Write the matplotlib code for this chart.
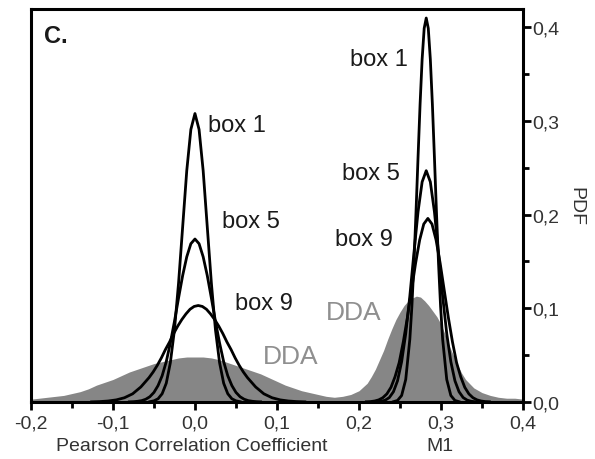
import matplotlib.pyplot as plt
from matplotlib.ticker import MultipleLocator, FuncFormatter

plt.rcParams['font.family'] = ['Liberation Sans', 'DejaVu Sans']

# DDA distribution (grey filled area), both peaks
dda_x = [-0.20, -0.19, -0.18, -0.17, -0.16, -0.15, -0.14, -0.13, -0.12, -0.11,
         -0.10, -0.09, -0.08, -0.07, -0.06, -0.05, -0.04, -0.03, -0.02, -0.01,
         0.00, 0.01, 0.02, 0.03, 0.04, 0.05, 0.06, 0.07, 0.08, 0.09,
         0.10, 0.11, 0.12, 0.13, 0.14, 0.15, 0.16, 0.17, 0.18, 0.19,
         0.20, 0.21, 0.215, 0.22, 0.225, 0.23, 0.235, 0.24, 0.245, 0.25, 0.255,
         0.26, 0.265, 0.27, 0.275, 0.28, 0.285, 0.29, 0.295, 0.30, 0.305,
         0.31, 0.315, 0.32, 0.325, 0.33, 0.34, 0.35, 0.36, 0.37, 0.38, 0.39, 0.40]
dda_y = [0.003, 0.004, 0.005, 0.006, 0.007, 0.009, 0.011, 0.014, 0.018, 0.021,
         0.024, 0.028, 0.032, 0.035, 0.038, 0.041, 0.043, 0.045, 0.047, 0.048,
         0.048, 0.048, 0.047, 0.045, 0.042, 0.039, 0.036, 0.033, 0.030, 0.026,
         0.022, 0.018, 0.015, 0.012, 0.010, 0.008, 0.006, 0.005, 0.006, 0.008,
         0.012, 0.020, 0.027, 0.035, 0.045, 0.055, 0.067, 0.078, 0.088, 0.096, 0.103,
         0.108, 0.111, 0.113, 0.112, 0.108, 0.103, 0.097, 0.091, 0.083, 0.072,
         0.060, 0.050, 0.040, 0.031, 0.024, 0.015, 0.010, 0.007, 0.005, 0.004, 0.004, 0.003]

# Pearson correlation coefficient, box 1 / 5 / 9
pcc_b1_x = [-0.055, -0.05, -0.045, -0.04, -0.035, -0.03, -0.025, -0.02, -0.015, -0.01, -0.005,
            0.0, 0.005, 0.01, 0.015, 0.02, 0.025, 0.03, 0.035, 0.04, 0.045, 0.05, 0.055]
pcc_b1_y = [0.0003, 0.0012, 0.0034, 0.0088, 0.020, 0.042, 0.077, 0.127, 0.187, 0.247, 0.291,
            0.308, 0.291, 0.247, 0.187, 0.127, 0.077, 0.042, 0.020, 0.0088, 0.0034, 0.0012, 0.0003]

pcc_b5_x = [-0.08, -0.075, -0.07, -0.065, -0.06, -0.055, -0.05, -0.045, -0.04, -0.035, -0.03,
            -0.025, -0.02, -0.015, -0.01, -0.005, 0.0, 0.005, 0.01, 0.015, 0.02, 0.025,
            0.03, 0.035, 0.04, 0.045, 0.05, 0.055, 0.06, 0.065, 0.07, 0.075, 0.08]
pcc_b5_y = [0.0001, 0.0003, 0.0007, 0.0014, 0.0029, 0.0056, 0.0102, 0.0175, 0.028, 0.043, 0.063,
            0.086, 0.111, 0.135, 0.155, 0.169, 0.174, 0.169, 0.155, 0.135, 0.111, 0.086,
            0.063, 0.043, 0.028, 0.0175, 0.0102, 0.0056, 0.0029, 0.0014, 0.0007, 0.0003, 0.0001]

pcc_b9_x = [-0.126, -0.116, -0.106, -0.096, -0.086, -0.076, -0.066, -0.056, -0.051, -0.046,
            -0.041, -0.036, -0.031, -0.026, -0.021, -0.016, -0.011, -0.006, -0.001, 0.004,
            0.009, 0.014, 0.019, 0.024, 0.029, 0.034, 0.039, 0.044, 0.049, 0.054, 0.059,
            0.064, 0.074, 0.084, 0.094, 0.104, 0.114, 0.124, 0.134]
pcc_b9_y = [0.0001, 0.0004, 0.001, 0.0022, 0.0045, 0.0087, 0.016, 0.026, 0.032, 0.039,
            0.047, 0.056, 0.064, 0.073, 0.081, 0.088, 0.094, 0.099, 0.102, 0.103,
            0.102, 0.099, 0.094, 0.088, 0.081, 0.073, 0.064, 0.056, 0.047, 0.039, 0.032,
            0.026, 0.016, 0.0087, 0.0045, 0.0022, 0.001, 0.0004, 0.0001]

# M1, box 1 / 5 / 9
m1_b1_x = [0.242, 0.247, 0.252, 0.257, 0.262, 0.2645, 0.267, 0.2695, 0.272, 0.2745, 0.277, 0.2795,
           0.282, 0.2845, 0.287, 0.2895, 0.292, 0.2945, 0.297, 0.2995, 0.302, 0.307, 0.312, 0.317, 0.322]
m1_b1_y = [0.0003, 0.0016, 0.0069, 0.024, 0.067, 0.102, 0.148, 0.202, 0.261, 0.318, 0.366, 0.399,
           0.410, 0.399, 0.366, 0.318, 0.261, 0.202, 0.148, 0.102, 0.067, 0.024, 0.0069, 0.0016, 0.0003]

m1_b5_x = [0.222, 0.227, 0.232, 0.237, 0.242, 0.247, 0.252, 0.257, 0.262, 0.267, 0.272, 0.277,
           0.282, 0.287, 0.292, 0.297, 0.302, 0.307, 0.312, 0.317, 0.322, 0.327, 0.332, 0.337, 0.342]
m1_b5_y = [0.0002, 0.0007, 0.0019, 0.0047, 0.0109, 0.0226, 0.043, 0.073, 0.113, 0.159, 0.203, 0.235,
           0.247, 0.235, 0.203, 0.159, 0.113, 0.073, 0.043, 0.0226, 0.0109, 0.0047, 0.0019, 0.0007, 0.0002]

m1_b9_x = [0.209, 0.214, 0.219, 0.224, 0.229, 0.234, 0.239, 0.244, 0.249, 0.254, 0.259, 0.264,
           0.269, 0.274, 0.279, 0.284, 0.289, 0.294, 0.299, 0.304, 0.309, 0.314, 0.319, 0.324,
           0.329, 0.334, 0.339, 0.344, 0.349, 0.354, 0.359]
m1_b9_y = [0.0002, 0.0004, 0.001, 0.0022, 0.0045, 0.0086, 0.0156, 0.027, 0.042, 0.064, 0.090, 0.119,
           0.148, 0.173, 0.190, 0.196, 0.190, 0.173, 0.148, 0.119, 0.090, 0.064, 0.042, 0.027,
           0.0156, 0.0086, 0.0045, 0.0022, 0.001, 0.0004, 0.0002]

fig = plt.figure(figsize=(5.95, 4.6), dpi=100)
ax = fig.add_axes([0.052, 0.124, 0.827, 0.855])

ax.fill_between(dda_x, 0, dda_y, color='#868686', lw=0, zorder=1)
for xs, ys in [(pcc_b1_x, pcc_b1_y), (pcc_b5_x, pcc_b5_y), (pcc_b9_x, pcc_b9_y),
               (m1_b1_x, m1_b1_y), (m1_b5_x, m1_b5_y), (m1_b9_x, m1_b9_y)]:
    ax.plot(xs, ys, color='black', lw=2.0, zorder=3)

ax.set_xlim(-0.2, 0.4)
ax.set_ylim(0, 0.42)

for s in ax.spines.values():
    s.set_linewidth(2.2)

ax.yaxis.tick_right()
ax.yaxis.set_label_position('right')
ax.xaxis.set_major_locator(MultipleLocator(0.1))
ax.xaxis.set_minor_locator(MultipleLocator(0.05))
ax.yaxis.set_major_locator(MultipleLocator(0.1))
ax.yaxis.set_minor_locator(MultipleLocator(0.05))
fmt = FuncFormatter(lambda v, p: ('%.1f' % v).replace('.', ',').replace('-0,0', '0,0'))
ax.xaxis.set_major_formatter(fmt)
ax.yaxis.set_major_formatter(fmt)
ax.tick_params(which='major', direction='out', length=6, width=2, labelsize=14,
               colors='black', labelcolor='#333333')
ax.tick_params(axis='x', which='major', pad=3)
ax.tick_params(axis='y', which='major', pad=1)
ax.tick_params(which='minor', direction='out', length=4, width=2)

ax.set_ylabel('PDF', rotation=270, fontsize=14, color='#333333', labelpad=18)

fig.text(0.323, 0.030, 'Pearson Correlation Coefficient', ha='center', va='center',
         fontsize=14, color='#333333')
fig.text(0.739, 0.030, 'M1', ha='center', va='center', fontsize=14, color='#333333')

txt = dict(ha='center', va='center', fontsize=17, color='#1a1a1a')
ax.text(0.051, 0.296, 'box 1', **txt)
ax.text(0.068, 0.193, 'box 5', **txt)
ax.text(0.084, 0.106, 'box 9', **txt)
ax.text(0.224, 0.366, 'box 1', **txt)
ax.text(0.214, 0.245, 'box 5', **txt)
ax.text(0.206, 0.174, 'box 9', **txt)
dda = dict(ha='center', va='center', fontsize=19, color='#8f8f8f')
ax.text(0.117, 0.049, 'DDA', **dda)
ax.text(0.193, 0.096, 'DDA', **dda)
ax.text(-0.1695, 0.391, 'C.', ha='center', va='center', fontsize=17, fontweight='bold',
        color='#1a1a1a')

fig.savefig('out.png', dpi=100)
